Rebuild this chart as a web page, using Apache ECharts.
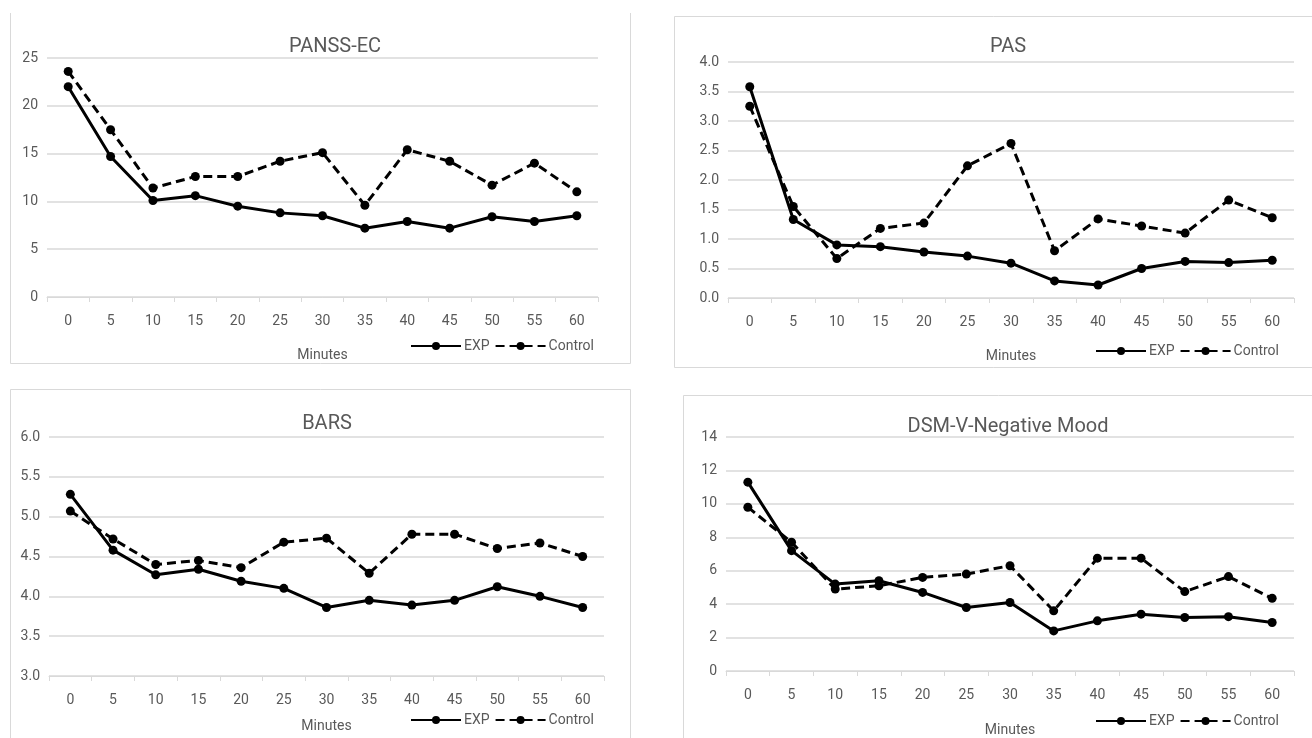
<!DOCTYPE html>
<html>
<head>
<meta charset="utf-8">
<script src="https://cdn.jsdelivr.net/npm/echarts@6/dist/echarts.min.js"></script>
<style>
  html, body { margin: 0; padding: 0; background: #fff; }
  #chart { width: 1312px; height: 738px; }
</style>
</head>
<body>
<div id="chart"></div>
<script>
const minutes = ['0', '5', '10', '15', '20', '25', '30', '35', '40', '45', '50', '55', '60']

// PANSS-EC
const panssExp = [22.0, 14.7, 10.1, 10.6, 9.5, 8.8, 8.5, 7.2, 7.9, 7.2, 8.4, 7.9, 8.5]
const panssControl = [23.6, 17.5, 11.4, 12.6, 12.6, 14.2, 15.1, 9.6, 15.4, 14.2, 11.7, 14.0, 11.0]

// PAS
const pasExp = [3.58, 1.33, 0.9, 0.87, 0.78, 0.71, 0.59, 0.29, 0.22, 0.5, 0.62, 0.6, 0.64]
const pasControl = [3.25, 1.55, 0.67, 1.18, 1.27, 2.24, 2.62, 0.8, 1.34, 1.22, 1.1, 1.66, 1.36]

// BARS
const barsExp = [5.28, 4.58, 4.27, 4.34, 4.19, 4.1, 3.86, 3.95, 3.89, 3.95, 4.12, 4.0, 3.86]
const barsControl = [5.07, 4.72, 4.4, 4.45, 4.36, 4.68, 4.73, 4.29, 4.78, 4.78, 4.6, 4.67, 4.5]

// DSM-V-Negative Mood
const dsmExp = [11.3, 7.2, 5.2, 5.4, 4.7, 3.8, 4.1, 2.4, 3.0, 3.4, 3.2, 3.25, 2.9]
const dsmControl = [9.8, 7.7, 4.9, 5.1, 5.6, 5.8, 6.3, 3.6, 6.75, 6.75, 4.75, 5.65, 4.35]

const textColor = '#595959'
const gridColor = '#d9d9d9'
const font = 'Roboto, "Noto Sans", sans-serif'

// panel layout (px)
const panels = [
  { title: 'PANSS-EC', tx: 330, ty: 32, grid: { left: 47, top: 58, width: 551, height: 239 }, min: 0, max: 25, step: 5, dec: 0, nameGap: 51, legend: { left: 405, top: 334 }, exp: panssExp, ctl: panssControl },
  { title: 'PAS', tx: 1003, ty: 32, grid: { left: 728, top: 62, width: 566, height: 236 }, min: 0, max: 4, step: 0.5, dec: 1, nameGap: 51, legend: { left: 1090, top: 339 }, exp: pasExp, ctl: pasControl },
  { title: 'BARS', tx: 322, ty: 409, grid: { left: 49, top: 437, width: 555, height: 239 }, min: 3, max: 6, step: 0.5, dec: 1, nameGap: 43, legend: { left: 405, top: 708 }, exp: barsExp, ctl: barsControl },
  { title: 'DSM-V-Negative Mood', tx: 1003, ty: 412, grid: { left: 726, top: 437, width: 568, height: 239 }, min: 0, max: 14, step: 2, dec: 0, nameGap: 52, legend: { left: 1090, top: 709 }, exp: dsmExp, ctl: dsmControl }
]

const chart = echarts.init(document.getElementById('chart'))

const option = {
  backgroundColor: '#fff',
  animation: false,
  textStyle: { fontFamily: font },
  graphic: [
    { type: 'polyline', shape: { points: [[10.5, 13], [10.5, 363.5], [630.5, 363.5], [630.5, 13]] }, style: { fill: 'none', stroke: gridColor, lineWidth: 1 } },
    { type: 'rect', shape: { x: 674.5, y: 16.5, width: 700, height: 351 }, style: { fill: 'none', stroke: gridColor, lineWidth: 1 } },
    { type: 'rect', shape: { x: 10.5, y: 389.5, width: 620, height: 400 }, style: { fill: 'none', stroke: gridColor, lineWidth: 1 } },
    { type: 'rect', shape: { x: 683.5, y: 395.5, width: 700, height: 400 }, style: { fill: 'none', stroke: gridColor, lineWidth: 1 } }
  ],
  title: panels.map(p => ({
    text: p.title,
    left: p.tx,
    top: p.ty,
    textAlign: 'center',
    textStyle: { color: textColor, fontSize: 20, fontWeight: 'normal', fontFamily: font }
  })),
  legend: panels.map(p => ({
    left: p.legend.left,
    top: p.legend.top,
    itemWidth: 50,
    itemHeight: 10,
    itemGap: 5,
    textStyle: { color: textColor, fontSize: 14, padding: [0, 0, 0, -2] },
    data: ['EXP', 'Control']
  })),
  grid: panels.map(p => Object.assign({ containLabel: false }, p.grid)),
  xAxis: panels.map((p, i) => ({
    type: 'category',
    gridIndex: i,
    data: minutes,
    boundaryGap: true,
    name: 'Minutes',
    nameLocation: 'middle',
    nameGap: p.nameGap,
    nameTextStyle: { color: textColor, fontSize: 14 },
    axisLine: { lineStyle: { color: gridColor, width: 1 } },
    axisTick: { show: true, length: 5, lineStyle: { color: gridColor } },
    axisLabel: { color: textColor, fontSize: 14, margin: 17 }
  })),
  yAxis: panels.map((p, i) => ({
    type: 'value',
    gridIndex: i,
    min: p.min,
    max: p.max,
    interval: p.step,
    axisLine: { show: false },
    axisTick: { show: false },
    splitLine: { lineStyle: { color: gridColor, width: 1.5 } },
    axisLabel: {
      color: textColor,
      fontSize: 14,
      margin: 9,
      formatter: v => v.toFixed(p.dec)
    }
  })),
  series: panels.flatMap((p, i) => [
    {
      name: 'EXP',
      type: 'line',
      xAxisIndex: i,
      yAxisIndex: i,
      data: p.exp,
      symbol: 'circle',
      symbolSize: 9,
      lineStyle: { color: '#000', width: 3, type: 'solid' },
      itemStyle: { color: '#000' }
    },
    {
      name: 'Control',
      type: 'line',
      xAxisIndex: i,
      yAxisIndex: i,
      data: p.ctl,
      symbol: 'circle',
      symbolSize: 9,
      lineStyle: { color: '#000', width: 3, type: [9, 5] },
      itemStyle: { color: '#000' }
    }
  ])
}

chart.setOption(option)
</script>
</body>
</html>
